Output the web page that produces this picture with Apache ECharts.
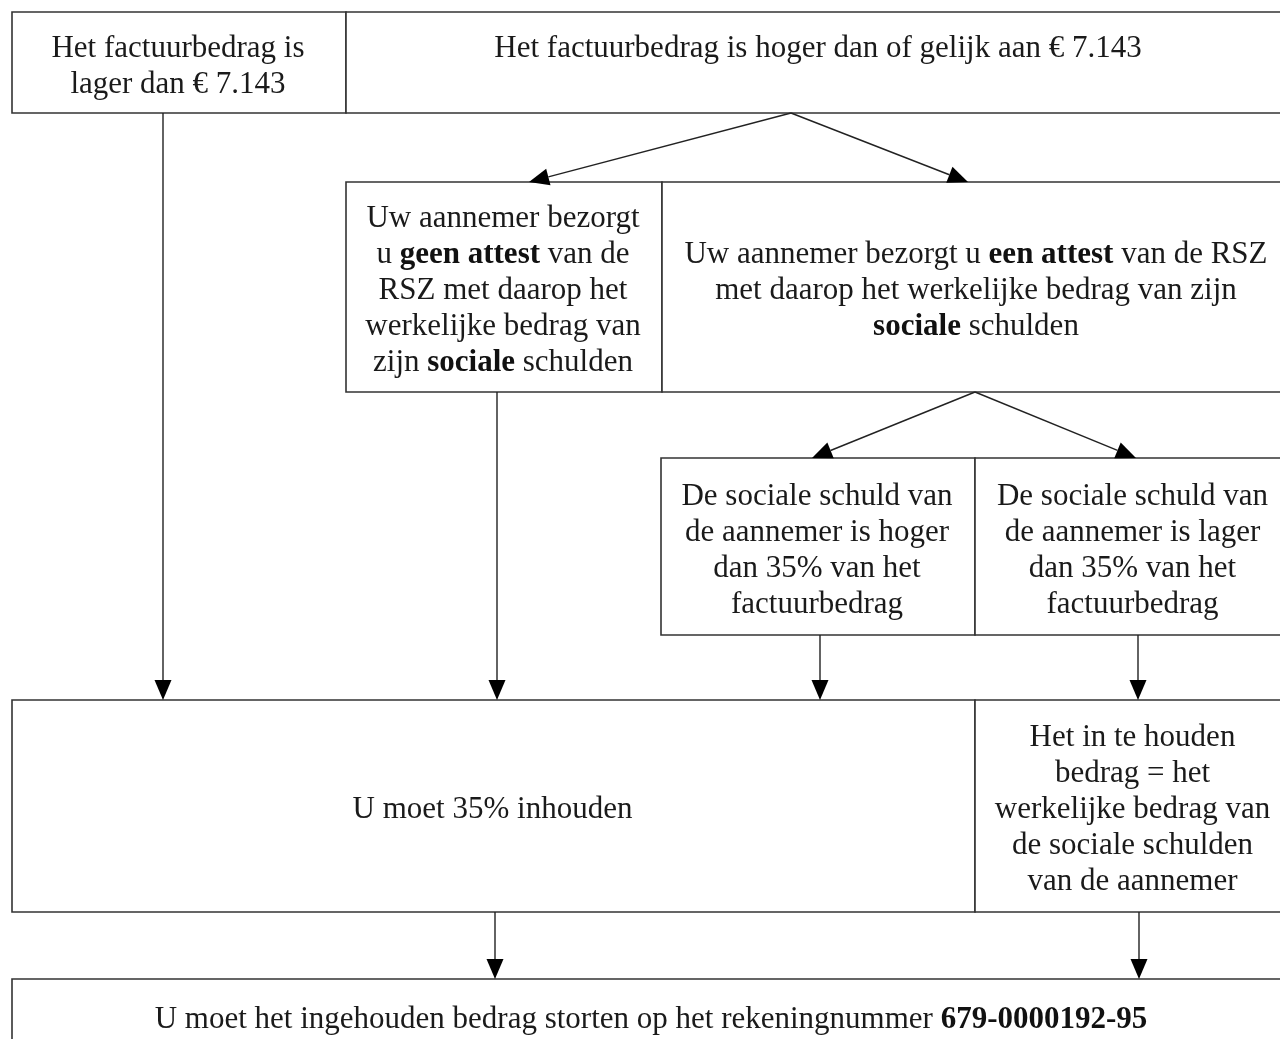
<!DOCTYPE html>
<html>
<head>
<meta charset="utf-8">
<script src="https://cdn.jsdelivr.net/npm/echarts@6/dist/echarts.min.js"></script>
<style>
    html, body { margin: 0; padding: 0; background: #fff; }
    #flow { width: 1280px; height: 1039px; }
</style>
</head>
<body>
<div id="flow"></div>
<script>
    // boxes in diagram units: [x0, y0, x1, y1]
    const boxRects = [
        [12, 12, 346, 113],
        [346, 12, 1292, 113],
        [346, 182, 662, 392],
        [662, 182, 1292, 392],
        [661, 458, 975, 635],
        [975, 458, 1292, 635],
        [12, 700, 975, 912],
        [975, 700, 1292, 912],
        [12, 979, 1292, 1052]
    ];
    const boxTexts = [
        "Het factuurbedrag is\nlager dan € 7.143",
        "Het factuurbedrag is hoger dan of gelijk aan € 7.143\n ",
        "Uw aannemer bezorgt\nu {b|geen attest} van de\nRSZ met daarop het\nwerkelijke bedrag van\nzijn {b|sociale} schulden",
        "Uw aannemer bezorgt u {b|een attest} van de RSZ\nmet daarop het werkelijke bedrag van zijn\n{b|sociale} schulden",
        "De sociale schuld van\nde aannemer is hoger\ndan 35% van het\nfactuurbedrag",
        "De sociale schuld van\nde aannemer is lager\ndan 35% van het\nfactuurbedrag",
        "U moet 35% inhouden",
        "Het in te houden\nbedrag = het\nwerkelijke bedrag van\nde sociale schulden\nvan de aannemer",
        "U moet het ingehouden bedrag storten op het rekeningnummer {b|679-0000192-95}"
    ];
    // arrows: [fromX, fromY, toX, toY]
    const arrowLinks = [
        [163, 113, 163, 700],
        [791, 113, 529, 182],
        [791, 113, 968, 182],
        [497, 392, 497, 700],
        [975, 392, 812, 458],
        [975, 392, 1136, 458],
        [820, 635, 820, 700],
        [1138, 635, 1138, 700],
        [495, 912, 495, 979],
        [1139, 912, 1139, 979]
    ];

    const fontFamily = '"Liberation Serif", "Times New Roman", serif';
    const fontSize = 31;
    const lineH = 36;

    let chart = echarts.init(document.getElementById("flow"));

    let option = {
        backgroundColor: '#ffffff',
        animation: false,
        grid: { left: 0, right: 0, top: 0, bottom: 0 },
        xAxis: { type: 'value', min: 0, max: 1280, show: false },
        yAxis: { type: 'value', min: 0, max: 1039, inverse: true, show: false },
        series: [{
            type: 'custom',
            name: 'boxes',
            clip: false,
            data: boxRects,
            renderItem(params, api) {
                let p0 = api.coord([api.value(0), api.value(1)]);
                let p1 = api.coord([api.value(2), api.value(3)]);
                return {
                    type: 'group',
                    children: [{
                        type: 'rect',
                        shape: { x: p0[0], y: p0[1], width: p1[0] - p0[0], height: p1[1] - p0[1] },
                        style: { fill: '#ffffff', stroke: '#333333', lineWidth: 1.6 }
                    }, {
                        type: 'text',
                        x: (p0[0] + p1[0]) / 2 - 1,
                        y: (p0[1] + p1[1]) / 2 + 4,
                        style: {
                            text: boxTexts[params.dataIndex],
                            fontFamily: fontFamily,
                            fontSize: fontSize,
                            lineHeight: lineH,
                            fill: '#1a1a1a',
                            align: 'center',
                            verticalAlign: 'middle',
                            rich: {
                                b: { fontFamily: fontFamily, fontSize: fontSize, lineHeight: lineH, fontWeight: 'bold', fill: '#111111' }
                            }
                        }
                    }]
                };
            }
        }, {
            type: 'custom',
            name: 'arrows',
            clip: false,
            data: arrowLinks,
            renderItem(params, api) {
                let a = api.coord([api.value(0), api.value(1)]);
                let b = api.coord([api.value(2), api.value(3)]);
                let dx = b[0] - a[0], dy = b[1] - a[1];
                let len = Math.sqrt(dx * dx + dy * dy);
                let ux = dx / len, uy = dy / len;
                let headL = 20, headW = 8.5;
                let base = [b[0] - ux * headL, b[1] - uy * headL];
                return {
                    type: 'group',
                    children: [{
                        type: 'line',
                        shape: { x1: a[0], y1: a[1], x2: base[0], y2: base[1] },
                        style: { stroke: '#222222', lineWidth: 1.4 }
                    }, {
                        type: 'polygon',
                        shape: {
                            points: [
                                [b[0], b[1]],
                                [base[0] - uy * headW, base[1] + ux * headW],
                                [base[0] + uy * headW, base[1] - ux * headW]
                            ]
                        },
                        style: { fill: '#000000' }
                    }]
                };
            }
        }]
    };

    chart.setOption(option);
</script>
</body>
</html>
